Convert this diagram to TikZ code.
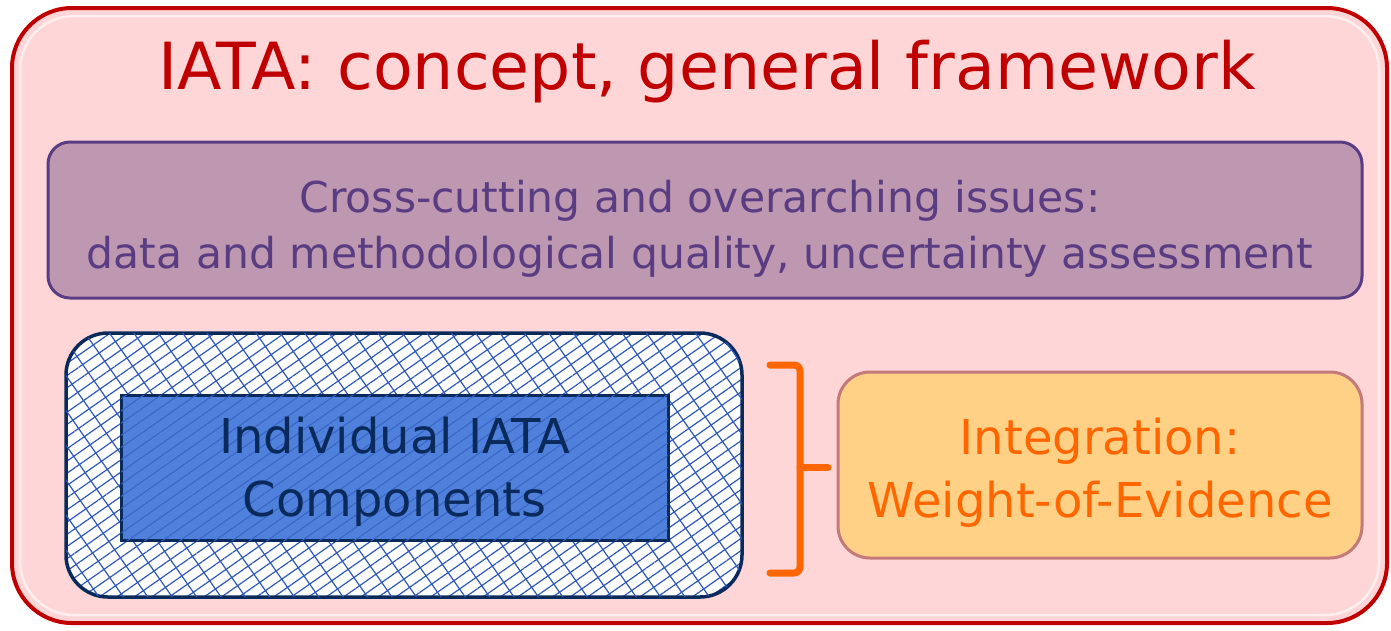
\documentclass[tikz,border=0pt]{standalone}
\usepackage{fontspec}
\setmainfont{DejaVu Sans}
\usetikzlibrary{patterns.meta}

\definecolor{framered}{HTML}{C00000}
\definecolor{framefill}{HTML}{FFD6D7}
\definecolor{issuefill}{HTML}{BE98B0}
\definecolor{issueline}{HTML}{5A3C82}
\definecolor{navy}{HTML}{0B2A5C}
\definecolor{compfill}{HTML}{4F80DC}
\definecolor{hatchblue}{HTML}{2E58B8}
\definecolor{woefill}{HTML}{FFD186}
\definecolor{woeline}{HTML}{C47A7A}
\definecolor{woetext}{HTML}{FF6600}

\tikzset{
  framebox/.style={draw=framered, fill=framefill, line width=4, rounded corners=60,
    minimum width=1375, minimum height=615, inner sep=0},
  issuebox/.style={draw=issueline, fill=issuefill, line width=3, rounded corners=22,
    minimum width=1314, minimum height=156, inner sep=0},
  issuetext/.style={align=center, text=issueline, font=\fontsize{42.5}{56}\selectfont},
  hatchbox/.style={draw=navy, line width=3.5, rounded corners=42,
    minimum width=676, minimum height=264, inner sep=0,
    preaction={fill=white},
    pattern={Lines[angle=35,distance=10,line width=1.2]}, pattern color=hatchblue,
    postaction={pattern={Lines[angle=-55,distance=20,line width=1.2]}, pattern color=hatchblue}},
  compbox/.style={draw=navy, line width=3, fill=compfill,
    minimum width=547, minimum height=145, inner sep=0,
    postaction={pattern={Lines[angle=35,distance=10,line width=1]}, pattern color=hatchblue!70!compfill}},
  comptext/.style={align=center, text=navy, font=\fontsize{48}{63}\selectfont},
  woebox/.style={draw=woeline, fill=woefill, line width=3, rounded corners=32,
    minimum width=524, minimum height=186, inner sep=0},
  woelabel/.style={align=center, text=woetext, font=\fontsize{48}{63}\selectfont},
  bracket/.style={draw=woetext, line width=7, line cap=round, line join=round}
}

\begin{document}
\begin{tikzpicture}[x=1pt, y=-1pt]

    \useasboundingbox (0,0) rectangle (1391,630);

    %% Framework

    % Outer frame
    \node[framebox] (frame) at (699.5,315.5) {};
    \draw[white, line width=2.5, opacity=0.6, rounded corners=54]
      (20,16) rectangle (1379,615);
    \node[text=framered, font=\fontsize{65}{75}\selectfont] (title) at (707,72)
      {IATA: concept, general framework};

    % Cross-cutting issues
    \node[issuebox] (issues) at (705,220) {};
    \node[issuetext] (issuelabel) at (700,229)
      {Cross-cutting and overarching issues:\\data and methodological quality, uncertainty assessment};

    % Components
    \node[hatchbox] (hatch) at (404,465) {};
    \node[compbox] (comp) at (394.5,467.5) {};
    \node[comptext] (complabel) at (394.5,471.5) {Individual IATA\\Components};

    % Weight of evidence
    \node[woebox] (woe) at (1100,465) {};
    \node[woelabel] (woetitle) at (1100,473) {Integration:\\Weight-of-Evidence};

    % Bracket
    \coordinate (btop) at (770,365);
    \coordinate (bbot) at (770,573);
    \coordinate (btip) at (828,467);
    \draw[bracket, rounded corners=6] (btop) -- (800,365) -- (800,573) -- (bbot);
    \draw[bracket] (800,467) -- (btip);

\end{tikzpicture}
\end{document}
